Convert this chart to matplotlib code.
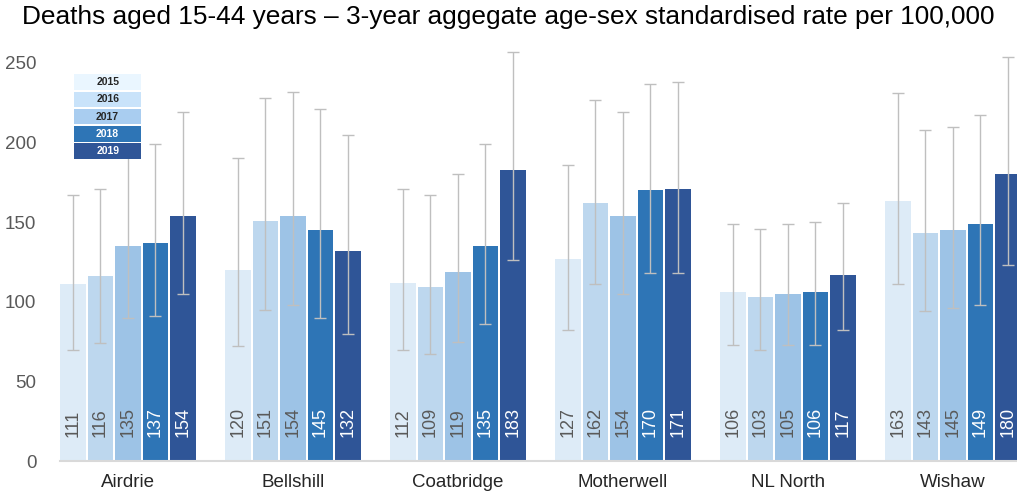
import numpy as np
import matplotlib
matplotlib.use("Agg")
from matplotlib import pyplot as plt

plt.rcParams['font.family'] = ['Liberation Sans', 'DejaVu Sans']

areas = ["Airdrie", "Bellshill", "Coatbridge", "Motherwell", "NL North", "Wishaw"]
years = ["2015", "2016", "2017", "2018", "2019"]

# rates per year, one value per area
rates = [
    [111, 120, 112, 127, 106, 163],
    [116, 151, 109, 162, 103, 143],
    [135, 154, 119, 154, 105, 145],
    [137, 145, 135, 170, 106, 149],
    [154, 132, 183, 171, 117, 180],
]
# 95% confidence limits
lower = [
    [70, 72, 70, 82, 73, 111],
    [74, 95, 67, 111, 70, 94],
    [90, 98, 75, 105, 73, 96],
    [91, 90, 86, 118, 73, 98],
    [105, 80, 126, 118, 82, 123],
]
upper = [
    [167, 190, 171, 186, 149, 231],
    [171, 228, 167, 227, 146, 208],
    [192, 232, 180, 219, 149, 210],
    [199, 221, 199, 237, 150, 217],
    [219, 205, 257, 238, 162, 254],
]

bar_colors = ["#DDEBF7", "#BDD7EE", "#9DC3E6", "#2E75B6", "#2F5597"]
legend_colors = ["#EAF6FF", "#C9E3FA", "#A9CDF0", "#2E75B6", "#2F5597"]
label_colors = ["#595959", "#595959", "#595959", "white", "white"]

fig = plt.figure(figsize=(10.17, 5.04), dpi=100)
ax = fig.add_axes([0.059, 0.0853, 0.941, 0.8214])

x = np.arange(len(areas))
pitch = 0.1667
width = 0.152

for i, yr in enumerate(years):
    pos = x + (i - 2) * pitch
    vals = np.array(rates[i])
    err = [vals - np.array(lower[i]), np.array(upper[i]) - vals]
    ax.bar(pos, vals, width=width, color=bar_colors[i], zorder=2)
    ax.errorbar(pos, vals, yerr=err, fmt="none", ecolor="#BFBFBF",
                elinewidth=1.0, capsize=4.3, capthick=1.0, zorder=3)
    for p, v in zip(pos, vals):
        ax.annotate(str(v), (p, 0), xytext=(0, 17), textcoords="offset points",
                    rotation=90, ha="center", va="bottom", fontsize=13,
                    color=label_colors[i], zorder=4)

# stacked legend boxes
for i, yr in enumerate(years):
    y0 = 0.915 - i * 0.0415
    ax.add_patch(plt.Rectangle((0.0145, y0 - 0.019), 0.0705, 0.038,
                               transform=ax.transAxes, fc=legend_colors[i],
                               ec="none", zorder=4))
    ax.text(0.0498, y0, yr, transform=ax.transAxes, ha="center", va="center",
            fontsize=7.5, fontweight="bold",
            color="#262626" if i < 3 else "white", zorder=5)

ax.set_xlim(-0.412, 5.388)
ax.set_ylim(0, 260)
ax.set_yticks([0, 50, 100, 150, 200, 250])
ax.set_xticks(x)
ax.set_xticklabels(areas)
ax.tick_params(axis="both", length=0, labelsize=13.5)
ax.tick_params(axis="y", colors="#595959", pad=17)
ax.tick_params(axis="x", colors="#262626", pad=9)
for s in ["top", "right", "left"]:
    ax.spines[s].set_visible(False)
ax.spines["bottom"].set_color("#D9D9D9")
ax.spines["bottom"].set_linewidth(1.5)

fig.suptitle("Deaths aged 15-44 years \u2013 3-year aggegate age-sex standardised rate per 100,000",
             x=0.5, y=0.99, fontsize=18.9, color="#000000")

fig.savefig("out.png", dpi=100)
